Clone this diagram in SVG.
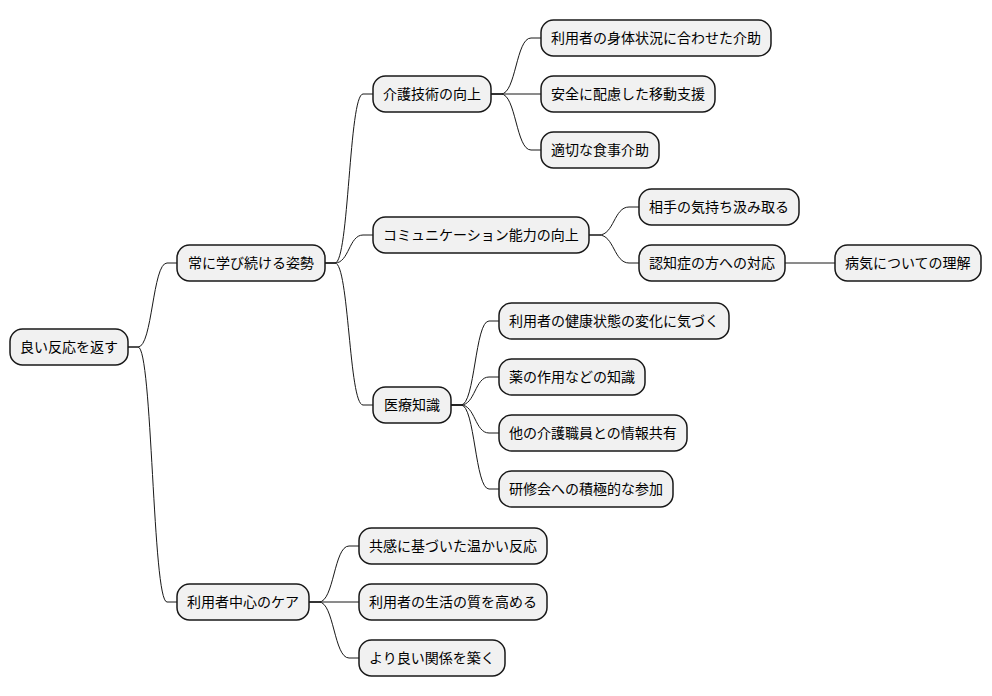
<svg xmlns="http://www.w3.org/2000/svg" width="992" height="696" viewBox="0 0 992 696">
<style>
.n rect{fill:#F1F1F1;stroke:#181818;stroke-width:1.5}
.n text{font-family:"Noto Sans CJK JP","Noto Sans",sans-serif;font-size:14px;fill:#000}
.c path{fill:none;stroke:#181818;stroke-width:1}
</style>
<rect width="992" height="696" fill="#FFFFFF"/>
<g class="c" id="connectors">
<path d="M128,347 L138,347 C152.5,347 152.5,263 167,263 L177,263"/>
<path d="M128,347 L138,347 C152.5,347 152.5,602 167,602 L177,602"/>
<path d="M325,263 L335,263 C349,263 349,94 363,94 L373,94"/>
<path d="M325,263 L335,263 C349,263 349,235 363,235 L373,235"/>
<path d="M325,263 L335,263 C349,263 349,405 363,405 L373,405"/>
<path d="M491,94 L501,94 C516,94 516,38 531,38 L541,38"/>
<path d="M491,94 L541,94"/>
<path d="M491,94 L501,94 C516,94 516,150 531,150 L541,150"/>
<path d="M589,235 L599,235 C614,235 614,207 629,207 L639,207"/>
<path d="M589,235 L599,235 C614,235 614,263 629,263 L639,263"/>
<path d="M785,263 L835,263"/>
<path d="M451,405 L461,405 C475,405 475,321 489,321 L499,321"/>
<path d="M451,405 L461,405 C475,405 475,377 489,377 L499,377"/>
<path d="M451,405 L461,405 C475,405 475,433 489,433 L499,433"/>
<path d="M451,405 L461,405 C475,405 475,489 489,489 L499,489"/>
<path d="M309,602 L319,602 C334,602 334,546 349,546 L359,546"/>
<path d="M309,602 L359,602"/>
<path d="M309,602 L319,602 C334,602 334,658 349,658 L359,658"/>
</g>
<g class="n" id="n0"><rect x="10" y="329" width="118" height="36" rx="12.5"/><text x="20" y="352">良い反応を返す</text></g>
<g class="n" id="n1"><rect x="177" y="245" width="148" height="36" rx="12.5"/><text x="188" y="268">常に学び続ける姿勢</text></g>
<g class="n" id="n2"><rect x="373" y="76" width="118" height="36" rx="12.5"/><text x="383" y="99">介護技術の向上</text></g>
<g class="n" id="n2a"><rect x="541" y="20" width="230" height="36" rx="12.5"/><text x="551" y="43">利用者の身体状況に合わせた介助</text></g>
<g class="n" id="n2b"><rect x="541" y="76" width="174" height="36" rx="12.5"/><text x="551" y="99">安全に配慮した移動支援</text></g>
<g class="n" id="n2c"><rect x="541" y="132" width="118" height="36" rx="12.5"/><text x="551" y="155">適切な食事介助</text></g>
<g class="n" id="n3"><rect x="373" y="217" width="216" height="36" rx="12.5"/><text x="383" y="240">コミュニケーション能力の向上</text></g>
<g class="n" id="n3a"><rect x="639" y="189" width="160" height="36" rx="12.5"/><text x="649" y="212">相手の気持ち汲み取る</text></g>
<g class="n" id="n3b"><rect x="639" y="245" width="146" height="36" rx="12.5"/><text x="649" y="268">認知症の方への対応</text></g>
<g class="n" id="n3b1"><rect x="835" y="245" width="146" height="36" rx="12.5"/><text x="845" y="268">病気についての理解</text></g>
<g class="n" id="n4"><rect x="373" y="387" width="78" height="36" rx="12.5"/><text x="384" y="410">医療知識</text></g>
<g class="n" id="n4a"><rect x="499" y="303" width="230" height="36" rx="12.5"/><text x="509" y="326">利用者の健康状態の変化に気づく</text></g>
<g class="n" id="n4b"><rect x="499" y="359" width="146" height="36" rx="12.5"/><text x="509" y="382">薬の作用などの知識</text></g>
<g class="n" id="n4c"><rect x="499" y="415" width="188" height="36" rx="12.5"/><text x="509" y="438">他の介護職員との情報共有</text></g>
<g class="n" id="n4d"><rect x="499" y="471" width="174" height="36" rx="12.5"/><text x="509" y="494">研修会への積極的な参加</text></g>
<g class="n" id="n5"><rect x="177" y="584" width="132" height="36" rx="12.5"/><text x="187" y="607">利用者中心のケア</text></g>
<g class="n" id="n5a"><rect x="359" y="528" width="188" height="36" rx="12.5"/><text x="369" y="551">共感に基づいた温かい反応</text></g>
<g class="n" id="n5b"><rect x="359" y="584" width="188" height="36" rx="12.5"/><text x="369" y="607">利用者の生活の質を高める</text></g>
<g class="n" id="n5c"><rect x="359" y="640" width="146" height="36" rx="12.5"/><text x="369" y="663">より良い関係を築く</text></g>
</svg>
